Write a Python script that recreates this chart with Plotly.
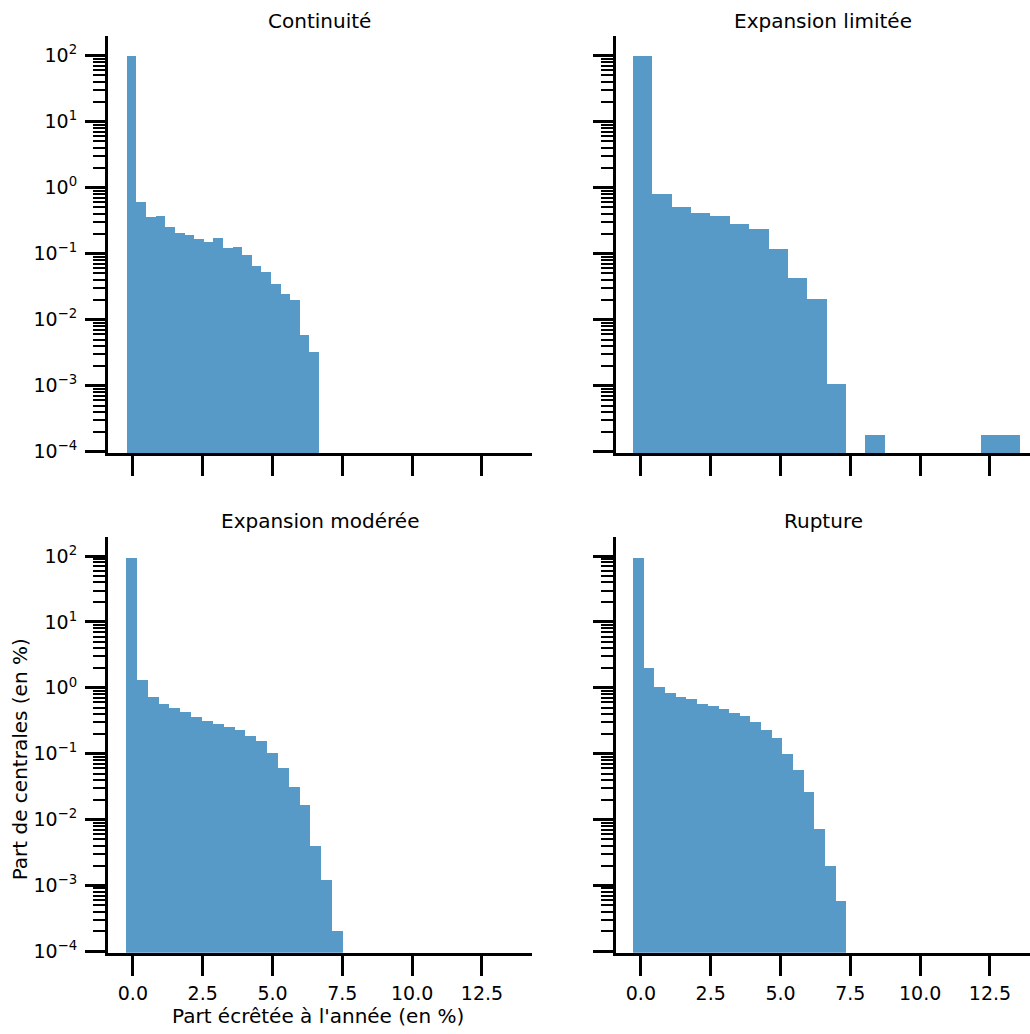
import plotly.graph_objects as go

# ---------------- data ----------------
titles = ["Continuité", "Expansion limitée", "Expansion modérée", "Rupture"]

edges_continuite = [-0.21, 0.13, 0.48, 0.82, 1.16, 1.51, 1.85, 2.19, 2.54, 2.88, 3.23,
                    3.57, 3.91, 4.26, 4.60, 4.94, 5.29, 5.63, 5.97, 6.32, 6.66]
vals_continuite = [95.6, 0.605, 0.353, 0.366, 0.252, 0.205, 0.19, 0.167, 0.147, 0.173,
                   0.121, 0.125, 0.0927, 0.064, 0.052, 0.0343, 0.0238, 0.0194, 0.00577, 0.00324]

edges_limitee = [-0.28, 0.41, 1.11, 1.80, 2.49, 3.19, 3.88, 4.57, 5.26, 5.96, 6.65,
                 7.34, 8.04, 8.73, 9.42, 10.12, 10.81, 11.50, 12.19, 12.89, 13.58]
vals_limitee = [95.6, 0.78, 0.51, 0.40, 0.366, 0.273, 0.23, 0.115, 0.042, 0.020,
                0.00106, None, 0.000177, None, None, None, None, None, 0.000177, 0.000177]

edges_moderee = [-0.25, 0.14, 0.53, 0.92, 1.31, 1.70, 2.08, 2.47, 2.86, 3.25, 3.64,
                 4.03, 4.42, 4.81, 5.20, 5.59, 5.97, 6.36, 6.75, 7.14, 7.53]
vals_moderee = [92.3, 1.33, 0.736, 0.578, 0.491, 0.432, 0.363, 0.31, 0.285, 0.254,
                0.231, 0.188, 0.158, 0.104, 0.0607, 0.0314, 0.0168, 0.00392, 0.00122, 0.000203]

edges_rupture = [-0.28, 0.10, 0.48, 0.87, 1.25, 1.63, 2.01, 2.39, 2.78, 3.16, 3.54,
                 3.92, 4.30, 4.69, 5.07, 5.45, 5.83, 6.21, 6.60, 6.98, 7.36]
vals_rupture = [92.3, 2.01, 1.04, 0.836, 0.736, 0.687, 0.578, 0.532, 0.474, 0.413,
                0.368, 0.299, 0.231, 0.173, 0.1007, 0.0566, 0.0258, 0.00731, 0.00196, 0.000582]

x_tick_vals = [0.0, 2.5, 5.0, 7.5, 10.0, 12.5]
x_tick_text = ["0.0", "2.5", "5.0", "7.5", "10.0", "12.5"]
y_tick_exps = [-4, -3, -2, -1, 0, 1, 2]

x_label = "Part écrêtée à l'année (en %)"
y_label = "Part de centrales (en %)"

# ---------------- figure ----------------
W, H = 1030, 1034
FONT = "DejaVu Sans"
BAR_COLOR = "rgba(31,119,180,0.75)"

panels = [
    (edges_continuite, vals_continuite),
    (edges_limitee, vals_limitee),
    (edges_moderee, vals_moderee),
    (edges_rupture, vals_rupture),
]

# domains in pixels -> paper fractions
xdom_px = [(108, 531.7), (616, 1030), (108, 531.7), (616, 1030)]
ydom_px = [(36.7, 457), (36.7, 457), (541.7, 961), (541.7, 961)]
xr_left = [-0.89, 14.28]
scale = (xdom_px[0][1] - xdom_px[0][0]) / (xr_left[1] - xr_left[0])

fig = go.Figure()

for i, (edges, vals) in enumerate(panels):
    centers = [(edges[k] + edges[k + 1]) / 2 for k in range(len(vals))]
    widths = [edges[k + 1] - edges[k] for k in range(len(vals))]
    ax = "" if i == 0 else str(i + 1)
    fig.add_trace(go.Bar(
        x=centers, y=vals, width=widths,
        marker=dict(color=BAR_COLOR, line=dict(width=0)),
        xaxis="x" + ax, yaxis="y" + ax, showlegend=False,
    ))

minor_vals = [m * 10.0 ** k for k in range(-5, 3) for m in range(2, 10)]
y_tick_vals = [10.0 ** e for e in y_tick_exps]
y_tick_text = ["10<sup>%s</sup>" % (str(e).replace("-", "−")) for e in y_tick_exps]

layout = dict(
    width=W, height=H,
    margin=dict(l=0, r=0, t=0, b=0),
    paper_bgcolor="white", plot_bgcolor="white",
    font=dict(family=FONT, size=18, color="black"),
    bargap=0,
)

for i in range(4):
    ax = "" if i == 0 else str(i + 1)
    x0, x1 = xdom_px[i]
    y0, y1 = ydom_px[i]
    xr = [xr_left[0], xr_left[0] + (x1 - x0) / scale]
    layout["xaxis" + ax] = dict(
        domain=[x0 / W, x1 / W], anchor="y" + ax,
        range=xr, showgrid=False, zeroline=False,
        showline=True, linecolor="black", linewidth=3,
        ticks="outside", ticklen=20, tickwidth=3, tickcolor="black",
        tickvals=x_tick_vals, ticktext=x_tick_text,
        showticklabels=(i >= 2), ticklabelstandoff=2,
        tickfont=dict(family=FONT, size=19, color="black"),
    )
    layout["yaxis" + ax] = dict(
        domain=[1 - y1 / H, 1 - y0 / H], anchor="x" + ax,
        type="log", range=[-4.02, 2.29], showgrid=False, zeroline=False,
        showline=True, linecolor="black", linewidth=3,
        ticks="outside", ticklen=20, tickwidth=3, tickcolor="black",
        tickvals=y_tick_vals, ticktext=y_tick_text,
        showticklabels=(i % 2 == 0), ticklabelstandoff=4,
        tickfont=dict(family=FONT, size=19, color="black"),
        minor=dict(tickvals=minor_vals, ticks="outside", ticklen=12,
                   tickwidth=2, tickcolor="black", showgrid=False),
    )

annotations = []
title_pos = [(319.8, 21), (823, 21), (319.8, 526), (823, 526)]
for t, (px, py) in zip(titles, title_pos):
    annotations.append(dict(text=t, x=px / W, y=1 - py / H, xref="paper", yref="paper",
                            showarrow=False, xanchor="center", yanchor="middle",
                            font=dict(family=FONT, size=20, color="black")))
annotations.append(dict(text=x_label, x=318 / W, y=1 - 1025 / H, xref="paper", yref="paper",
                        showarrow=False, xanchor="center", yanchor="middle",
                        font=dict(family=FONT, size=20, color="black")))
annotations.append(dict(text=y_label, x=20 / W, y=1 - 766 / H, xref="paper", yref="paper",
                        showarrow=False, xanchor="center", yanchor="middle", textangle=-90,
                        font=dict(family=FONT, size=20, color="black")))
layout["annotations"] = annotations

fig.update_layout(**layout)
fig.write_html("out.html", config={"displayModeBar": False},
               post_script="document.body.style.margin='0';document.body.style.overflow='hidden';")
